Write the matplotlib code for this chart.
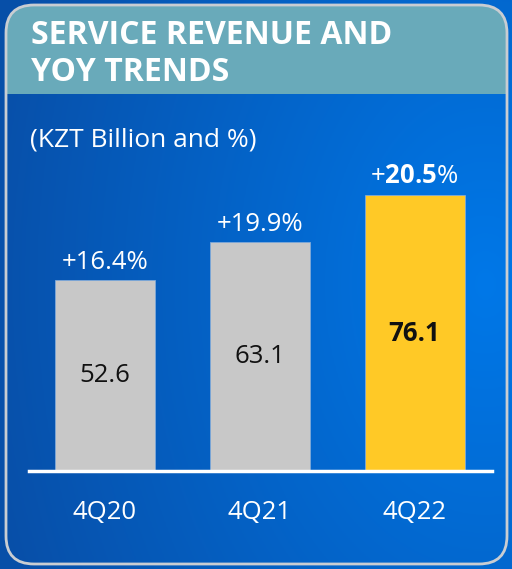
import matplotlib.pyplot as plt
import numpy as np
from matplotlib.patches import FancyBboxPatch, Rectangle

plt.rcParams['font.family'] = ['Open Sans', 'DejaVu Sans']
plt.rcParams['mathtext.fontset'] = 'custom'
plt.rcParams['mathtext.rm'] = 'Open Sans'
plt.rcParams['mathtext.bf'] = 'Open Sans:bold'

# data
quarters = ["4Q20", "4Q21", "4Q22"]
revenue = [52.6, 63.1, 76.1]
yoy_growth = [16.4, 19.9, 20.5]
bar_colors = ["#C8C8C8", "#C8C8C8", "#FFC926"]

W, H = 512, 569
fig = plt.figure(figsize=(W / 100, H / 100), dpi=100)

# background gradient (pixel coords)
bg = fig.add_axes([0, 0, 1, 1])
bg.set_xlim(0, W)
bg.set_ylim(H, 0)
bg.axis("off")
xx, yy = np.meshgrid(np.linspace(0, 1, 256), np.linspace(0, 1, 256))
d = np.clip(np.sqrt((xx - 0.95) ** 2 + (yy - 0.5) ** 2 * 0.6) / 1.0, 0, 1)
c_light = np.array([0.0, 0.47, 0.91])
c_dark = np.array([0.03, 0.31, 0.66])
img = c_light[None, None, :] * (1 - d[..., None]) + c_dark[None, None, :] * d[..., None]
bg.imshow(img, extent=[0, W, H, 0], aspect="auto", zorder=0)

panel = FancyBboxPatch((6, 5), W - 11, H - 10, boxstyle="round,pad=0,rounding_size=28",
                       facecolor="none", edgecolor="#C9CDD2", linewidth=2, zorder=3)
bg.add_patch(panel)
header = Rectangle((6, 5), W - 11, 89, facecolor="#69AABA", edgecolor="none", zorder=2)
bg.add_patch(header)
header.set_clip_path(panel)

bg.text(31, 35, "SERVICE REVENUE AND", color="white", fontsize=23, fontweight="bold",
        va="center", ha="left")
bg.text(31, 72, "YOY TRENDS", color="white", fontsize=23, fontweight="bold",
        va="center", ha="left")
bg.text(30, 140, "(KZT Billion and %)", color="white", fontsize=19, va="center", ha="left")

# bar chart
ax = fig.add_axes([29 / W, 1 - 471 / H, (492 - 29) / W, 330 / H])
ax.set_facecolor("none")
x = np.arange(len(quarters))
ax.bar(x, revenue, width=0.645, color=bar_colors, edgecolor="#7FA9D9", linewidth=0.6, zorder=2)
ax.set_xlim(-0.49, 2.5)
ax.set_ylim(0, 91)
for s in ["top", "left", "right"]:
    ax.spines[s].set_visible(False)
ax.spines["bottom"].set_color("white")
ax.spines["bottom"].set_linewidth(2.5)
ax.spines["bottom"].set_zorder(3)
ax.set_yticks([])
ax.set_xticks(x)
ax.set_xticklabels(quarters, color="white", fontsize=18.5)
ax.tick_params(axis="x", length=0, pad=21)

for i, (v, g) in enumerate(zip(revenue, yoy_growth)):
    bold = i == len(revenue) - 1
    ax.text(i, v / 2, f"{v:.1f}", ha="center", va="center", fontsize=18.5,
            color="#111111", fontweight="bold" if bold else "normal", zorder=4)
    label = f"+$\\mathbf{{{g:.1f}}}$%" if bold else f"+{g:.1f}%"
    ax.annotate(label, (i, v), xytext=(0, 4), textcoords="offset points",
                ha="center", va="bottom", fontsize=18.5, color="white")

fig.savefig("out.png", dpi=100)
